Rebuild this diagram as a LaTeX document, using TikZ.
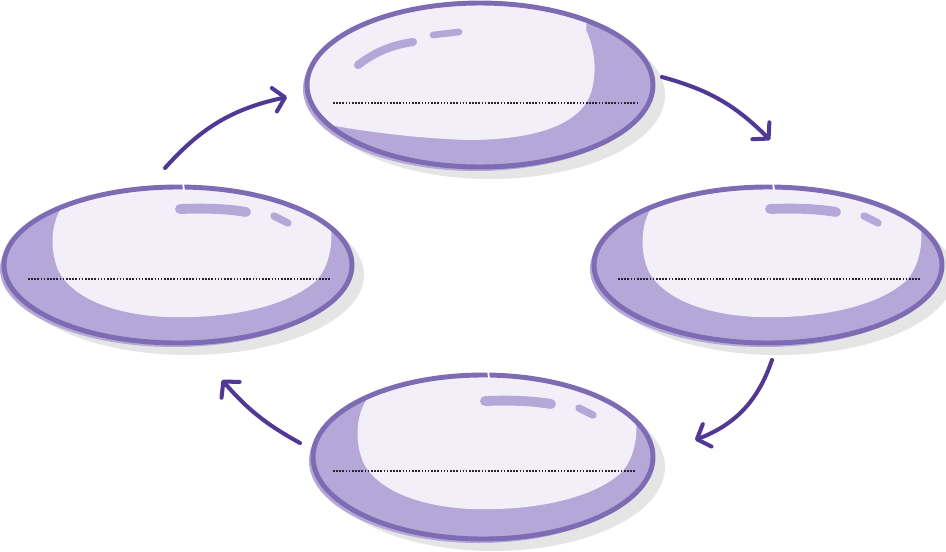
\documentclass[tikz,border=0pt]{standalone}
\usetikzlibrary{arrows.meta,positioning,shapes.geometric}
\definecolor{ring}{RGB}{125,107,180}
\definecolor{crescent}{RGB}{181,167,215}
\definecolor{pearl}{RGB}{243,239,249}
\definecolor{dropgrey}{RGB}{229,229,229}
\definecolor{arrowc}{RGB}{79,57,148}
\tikzset{
  bubble/.style={
    shape = ellipse,
    draw = ring,
    line width = 2.8pt,
    inner sep = 0pt,
    outer sep = 0pt
  },
  gloss/.style={
    draw = crescent,
    line cap = round,
    line width = 5.6pt
  },
  blank/.style={
    draw = black!85,
    line width = 1.1pt,
    dash pattern = on 0.9pt off 0.9pt
  },
  cyc/.style={
    draw = arrowc,
    line width = 2.3pt,
    line cap = round,
    -{Straight Barb[length=2.2mm,width=4.8mm,round]}
  },
}

\begin{document}
\begin{tikzpicture}[x=0.02cm,y=-0.02cm]
\useasboundingbox (0,0) rectangle (946,551);

% top bubble
\begin{scope}[shift={(480,85)}]
  \fill[dropgrey] (10,10) ellipse [x radius=175, y radius=84];
  \fill[crescent] (-4,4) ellipse [x radius=173, y radius=82];
  \fill[crescent] (0,0) ellipse [x radius=173, y radius=82];
  \begin{scope}
    \clip (0,0) ellipse [x radius=173, y radius=82];
    \fill[pearl] (110,-100) -- (106,-55) .. controls (116,-35) and (118,-5) .. (108,15)
      .. controls (93,42) and (50,55) .. (-13,55) .. controls (-70,53) and (-130,45) .. (-175,35)
      -- (-175,-100) -- cycle;
  \end{scope}
  \draw[gloss, line width=4.6pt] (-122,-20) .. controls (-105,-33) and (-88,-40) .. (-67,-43);
  \draw[gloss, line width=3.8pt] (-47,-50) -- (-21,-53);
  \draw[blank] (-147,18) -- (158,18);
\end{scope}
\node[bubble, minimum width=6.92cm, minimum height=3.28cm] (tp) at (480,85) {};

% the other three
\foreach \nm/\cx/\cy/\rx/\ry in {lf/178/265/174/78, rt/768/265/174/78, bt/483/457/170/82}{
  \begin{scope}[shift={(\cx,\cy)}]
    \fill[dropgrey] (10,10) ellipse [x radius=\rx+2, y radius=\ry+2];
    \fill[crescent] (-4,4) ellipse [x radius=\rx, y radius=\ry];
    \fill[crescent] (0,0) ellipse [x radius=\rx, y radius=\ry];
    \begin{scope}
      \clip (0,0) ellipse [x radius=\rx, y radius=\ry];
      \fill[pearl] (-112,-100) -- (-116,-58) .. controls (-125,-45) and (-130,-20) .. (-120,5)
        .. controls (-105,35) and (-60,50) .. (-11,52) .. controls (50,54) and (110,42) .. (139,15)
        .. controls (152,0) and (156,-25) .. (152,-45) -- (152,-100) -- cycle;
    \end{scope}
    \draw[gloss] (2,-56) .. controls (30,-57) and (50,-56) .. (68,-53);
    \draw[gloss, line width=4.2pt] (96,-49) -- (110,-42);
    \draw[blank] (-150,14) -- (153,14);
  \end{scope}
  \node[bubble, minimum width=2*\rx*0.02cm, minimum height=2*\ry*0.02cm] (\nm) at (\cx,\cy) {};
  \draw[white, line width=1pt] (\cx+5,\cy-\ry-4) -- (\cx+6,\cy-\ry+3);
}

\draw[cyc] ([shift={(-13,-19)}]lf.north) to[bend left=18] ([shift={(-20,12)}]tp.west);
\draw[cyc] ([shift={(9,-8)}]tp.east) to[bend left=15] ([shift={(2,-47)}]rt.north);
\draw[cyc] ([shift={(4,17)}]rt.south) to[bend left=25] ([shift={(42,-17)}]bt.east);
\draw[cyc] ([shift={(-13,-14)}]bt.west) to[bend left=10] ([shift={(44,37)}]lf.south);
\end{tikzpicture}
\end{document}
